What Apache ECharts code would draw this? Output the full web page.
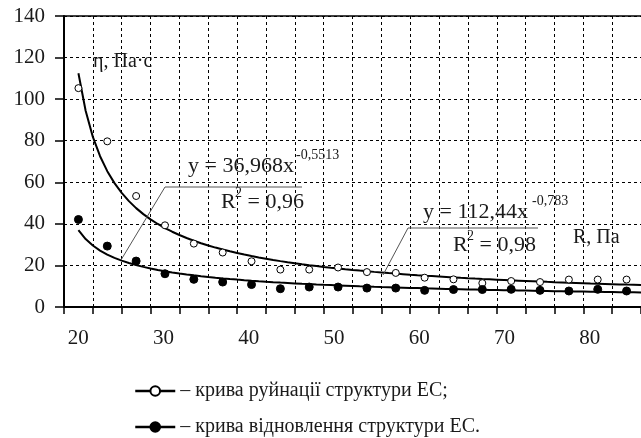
<!DOCTYPE html>
<html>
<head>
<meta charset="utf-8">
<script src="https://cdn.jsdelivr.net/npm/echarts@6/dist/echarts.min.js"></script>
<style>
html,body{margin:0;padding:0;background:#fff;}
#chart{width:641px;height:438px;}
</style>
</head>
<body>
<div id="chart"></div>
<script>
// ---- data ----
const categories = [1,2,3,4,5,6,7,8,9,10,11,12,13,14,15,16,17,18,19,20];
const xTickLabels = [20,30,40,50,60,70,80];
const yTicks = [0,20,40,60,80,100,120,140];
const destructionValues = [105.3,79.7,53.4,39.3,30.5,26.2,22.0,18.0,18.0,19.0,16.8,16.4,14.1,13.3,11.5,12.5,12.0,13.2,13.2,13.2];
const recoveryValues    = [42.1,29.3,22.1,16.0,13.3,12.0,10.8,8.8,9.6,9.6,9.1,9.1,8.0,8.4,8.4,8.5,8.0,7.7,8.5,7.7];
const destructionTrend = {a:112.44, b:-0.783, label:'y = 112,44x', exp:'-0,783', r2:'R', r2v:' = 0,98'};
const recoveryTrend    = {a:36.968, b:-0.5513, label:'y = 36,968x', exp:'-0,5513', r2:'R', r2v:' = 0,96'};
const seriesNames = ['– крива руйнації структури ЕС;', '– крива відновлення структури ЕС.'];
const yAxisTitle = 'η, Па·с';
const xAxisTitle = 'R, Па';

// trendline samples along the published equations
function trend(t){
  const pts=[];
  for(let i=0;i<=78;i++){const x=1+i*0.25; pts.push([x, t.a*Math.pow(x,t.b)]);}
  return pts;
}

const FONT = "'Liberation Serif', 'DejaVu Serif', serif";
const TXT = '#1a1a1a';
const chart = echarts.init(document.getElementById('chart'), null, {renderer:'canvas'});

const legendBase = {
  orient:'horizontal', left:134, padding:0, itemWidth:40, itemHeight:12,
  lineStyle:{color:'#000', width:2.5, opacity:1},
  textStyle:{color:TXT, fontFamily:FONT, fontSize:20}
};

const option = {
  animation:false,
  backgroundColor:'#fff',
  grid:{left:64, top:16, width:578, height:291},
  xAxis:[
    { type:'category', data:categories, boundaryGap:true, position:'bottom',
      axisLine:{lineStyle:{color:'#000', width:2}},
      axisTick:{show:true, length:7, lineStyle:{color:'#000', width:1.5}},
      axisLabel:{show:false},
      splitLine:{show:true, lineStyle:{color:'#000', width:1, type:[3,3]}} },
    { type:'value', min:0.5, max:20.5, position:'top',
      axisLine:{show:true, onZero:false, lineStyle:{color:'#000', width:1.5}},
      axisTick:{show:false}, axisLabel:{show:false}, splitLine:{show:false} },
    { type:'value', min:18.33, max:86.0, position:'bottom',
      axisLine:{show:false}, axisTick:{show:false}, splitLine:{show:false},
      axisLabel:{show:true, customValues:xTickLabels, margin:21, color:TXT, fontFamily:FONT, fontSize:21} }
  ],
  yAxis:{ type:'value', min:0, max:140, interval:20,
    axisLine:{show:true, lineStyle:{color:'#000', width:2}},
    axisTick:{show:true, length:9, lineStyle:{color:'#000', width:1.5}},
    axisLabel:{margin:19, color:TXT, fontFamily:FONT, fontSize:21},
    splitLine:{show:true, lineStyle:{color:'#000', width:1, type:[3,3]}} },
  legend:[
    Object.assign({}, legendBase, {top:381, data:[seriesNames[0]]}),
    Object.assign({}, legendBase, {top:417, data:[seriesNames[1]]})
  ],
  series:[
    { name:'trend1', type:'line', xAxisIndex:1, data:trend(destructionTrend), showSymbol:false, symbol:'none', smooth:false,
      lineStyle:{color:'#000', width:2}, z:3, silent:true },
    { name:'trend2', type:'line', xAxisIndex:1, data:trend(recoveryTrend), showSymbol:false, symbol:'none', smooth:false,
      lineStyle:{color:'#000', width:2}, z:3, silent:true },
    { name:seriesNames[0], type:'line', xAxisIndex:1, data:destructionValues.map((v,i)=>[categories[i],v]),
      symbol:'circle', symbolSize:7, lineStyle:{width:0, opacity:0},
      itemStyle:{color:'#fff', borderColor:'#000', borderWidth:1}, z:4 },
    { name:seriesNames[1], type:'line', xAxisIndex:1, data:recoveryValues.map((v,i)=>[categories[i],v]),
      symbol:'circle', symbolSize:8, lineStyle:{width:0, opacity:0},
      itemStyle:{color:'#000', borderColor:'#000', borderWidth:1}, z:4 }
  ]
};
chart.setOption(option);

// annotations
const g = [];
function txt(x,y,text,size){
  g.push({type:'text', x:x, y:y, z:10, style:{text:text, fill:TXT, fontSize:size, fontFamily:FONT, align:'left', verticalAlign:'middle'}});
}
txt(93, 62, yAxisTitle, 20);
txt(573, 238, xAxisTitle, 20);
// equation 1 (recovery)
txt(188, 166, recoveryTrend.label, 22);
txt(296, 155, recoveryTrend.exp, 14);
txt(221, 202, recoveryTrend.r2, 22);
txt(235, 193, '2', 14);
txt(242, 202, recoveryTrend.r2v, 22);
// equation 2 (destruction)
txt(423, 212, destructionTrend.label, 22);
txt(532, 201, destructionTrend.exp, 14);
txt(453, 245, destructionTrend.r2, 22);
txt(467, 236, '2', 14);
txt(474, 245, destructionTrend.r2v, 22);
// leader lines
g.push({type:'polyline', z:9, shape:{points:[[121,260],[165,187],[302,187]]}, style:{stroke:'#555', lineWidth:1, fill:null}});
g.push({type:'polyline', z:9, shape:{points:[[383,275],[408,228],[538,228]]}, style:{stroke:'#555', lineWidth:1, fill:null}});
chart.setOption({graphic:g});
</script>
</body>
</html>
